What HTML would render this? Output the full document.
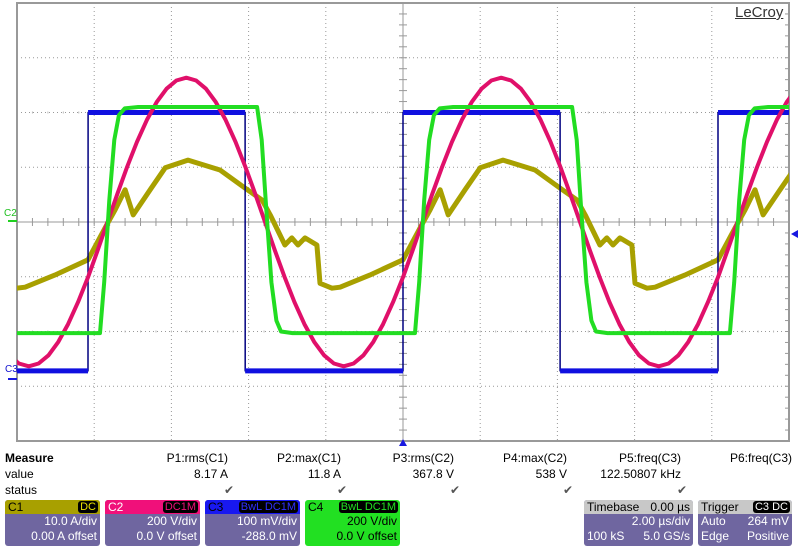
<!DOCTYPE html>
<html><head><meta charset="utf-8"><style>
body{margin:0;background:#fff;font-family:"Liberation Sans",sans-serif;}
#wrap{position:relative;width:800px;height:547px;overflow:hidden;background:#fff}
.t{position:absolute;font-size:12px;color:#000;white-space:nowrap}
.r{text-align:right}
.box{position:absolute;background:#6f66a0;border-radius:3px;color:#fff;font-size:12px;overflow:hidden}
.hd{height:14px;line-height:14px;padding-left:3px;position:relative}
.tag{position:absolute;top:1px;background:#000;border-radius:3px;font-size:11px;line-height:12px;padding:0 2px}
.ln{text-align:right;padding-right:3px;height:15px;line-height:15px}
</style></head><body>
<div id="wrap">
<svg id="plot" width="800" height="450" style="position:absolute;left:0;top:0"></svg>
<div class="t" style="left:735px;top:4px;font-size:15px;color:#333;text-decoration:underline">LeCroy</div>
<div class="t" style="left:4px;top:208px;font-size:10px;color:#20c020">C2</div>
<div class="t" style="left:5px;top:364px;font-size:10px;color:#1010d0">C3</div>

<div class="t" style="left:5px;top:451px;font-weight:bold">Measure</div>
<div class="t" style="left:5px;top:467px">value</div>
<div class="t" style="left:5px;top:483px">status</div>
<div id="meas"></div>

<div class="box" style="left:5px;top:500px;width:95px;height:46px"><div class="hd" style="background:#a8a000;color:#000">C1<span class="tag" style="right:2px;color:#e8e000">DC</span></div><div class="ln">10.0 A/div</div><div class="ln">0.00 A offset</div></div>
<div class="box" style="left:105px;top:500px;width:95px;height:46px"><div class="hd" style="background:#f0107a;color:#fff">C2<span class="tag" style="right:2px;color:#f0107a">DC1M</span></div><div class="ln">200 V/div</div><div class="ln">0.0 V offset</div></div>
<div class="box" style="left:205px;top:500px;width:95px;height:46px"><div class="hd" style="background:#1818f0;color:#000">C3<span class="tag" style="right:2px;color:#3030ff">BwL DC1M</span></div><div class="ln">100 mV/div</div><div class="ln">-288.0 mV</div></div>
<div class="box" style="left:305px;top:500px;width:95px;height:46px;background:#22e022;color:#000"><div class="hd" style="color:#000">C4<span class="tag" style="right:2px;color:#22e022">BwL DC1M</span></div><div class="ln">200 V/div</div><div class="ln">0.0 V offset</div></div>
<div class="box" style="left:584px;top:500px;width:109px;height:46px"><div class="hd" style="background:#c8c8c8;color:#000">Timebase<span style="position:absolute;right:3px">0.00 µs</span></div><div class="ln">2.00 µs/div</div><div class="ln" style="position:relative"><span style="position:absolute;left:3px">100 kS</span>5.0 GS/s</div></div>
<div class="box" style="left:698px;top:500px;width:94px;height:46px"><div class="hd" style="background:#c8c8c8;color:#000">Trigger<span class="tag" style="right:2px;color:#fff">C3 DC</span></div><div class="ln" style="position:relative"><span style="position:absolute;left:3px">Auto</span>264 mV</div><div class="ln" style="position:relative"><span style="position:absolute;left:3px">Edge</span>Positive</div></div>
</div>
<script>
// ---- chart data ----
const measNames = ["P1:rms(C1)","P2:max(C1)","P3:rms(C2)","P4:max(C2)","P5:freq(C3)","P6:freq(C3)"];
const measValues = ["8.17 A","11.8 A","367.8 V","538 V","122.50807 kHz",""];
const measStatus = [true,true,true,true,true,false];
const periodUs = 8.16;
const riseTimesUs = [-16.32,-8.16,0,8.16];
// C1 current (A), times relative to switching rise (µs)
const c1Times = [0,0.44,0.70,0.96,1.17,1.61,2.0,2.59,3.42,4.07,4.51,4.72,5.10,5.28,5.44,5.62,5.93,6.01,6.32,6.53,7.3,8.16];
const c1Values = [-6.9,-1.1,2.2,5.9,1.3,5.9,9.9,11.3,9.5,6.2,4.0,1.3,-4.2,-2.9,-4.2,-2.9,-4.2,-11.2,-12.1,-11.9,-9.7,-6.9];
// C2 voltage (V)
const c2Times = [0,0.25,0.505,0.76,1.015,1.27,1.525,1.78,2.035,2.29,2.545,2.8,3.055,3.31,3.565,3.82,4.075,4.33,4.585,4.84,5.095,5.35,5.605,5.86,6.115,6.37,6.625,6.88,7.135,7.39,7.645,7.9,8.16];
const c2Values = [-202,-103,0,103,202,293,373,438,487,517,527,517,487,438,373,293,202,103,0,-103,-202,-293,-373,-438,-487,-517,-527,-517,-487,-438,-373,-293,-202];
// C4 voltage (V)
const c4Times = [0,0.31,0.42,0.55,0.68,0.8,0.95,1.3,4.38,4.5,4.62,4.75,4.88,5.0,5.3,8.16];
const c4Values = [-406,-406,-220,80,300,390,415,420,420,300,40,-220,-360,-400,-406,-406];
// C3 gate signal (V)
const c3Times = [0,0.001,4.07,4.071,8.16];
const c3Values = [0.016,0.488,0.488,0.016,0.016];
const scales = {c1:10,c2:200,c3:0.1,c4:200};
const c3Offset = -0.288;

// ---- axes ----
const L=17,T=3,W=772,H=438,DX=W/10,DY=H/8;
const xOf = t => L + (t/2 + 5)*DX;
const yOf = d => T + (4 - d)*DY;
const svg = document.getElementById('plot');
const NS='http://www.w3.org/2000/svg';
function mk(tag, attrs){const e=document.createElementNS(NS,tag);for(const k in attrs)e.setAttribute(k,attrs[k]);return e;}
const grid = mk('g',{});


svg.appendChild(grid);
for(let i=1;i<10;i++){const x=L+i*DX;grid.appendChild(mk('line',{x1:x,y1:T,x2:x,y2:T+H,stroke:'#999','stroke-dasharray':'1,3'}));}
for(let j=1;j<8;j++){const y=T+j*DY;grid.appendChild(mk('line',{x1:L,y1:y,x2:L+W,y2:y,stroke:'#999','stroke-dasharray':'1,3'}));}
const cx=L+5*DX, cy=T+4*DY;
grid.appendChild(mk('line',{x1:cx,y1:T,x2:cx,y2:T+H,stroke:'#999'}));
grid.appendChild(mk('line',{x1:L,y1:cy,x2:L+W,y2:cy,stroke:'#999'}));
for(let i=0;i<50;i++){const x=L+i*DX/5;grid.appendChild(mk('line',{x1:x,y1:cy-4,x2:x,y2:cy+4,stroke:'#999'}));grid.appendChild(mk('line',{x1:x,y1:cy-DY*2-1,x2:x,y2:cy-DY*2+1,stroke:'#bbb'}));grid.appendChild(mk('line',{x1:x,y1:cy+DY*2-1,x2:x,y2:cy+DY*2+1,stroke:'#bbb'}));}
for(let j=0;j<40;j++){const y=T+j*DY/5;grid.appendChild(mk('line',{x1:cx-4,y1:y,x2:cx+4,y2:y,stroke:'#999'}));grid.appendChild(mk('line',{x1:L+W-4,y1:y,x2:L+W,y2:y,stroke:'#999'}));}
grid.appendChild(mk('rect',{x:L,y:T,width:W,height:H,fill:'none',stroke:'#999','stroke-width':2}));

const cp = mk('clipPath',{id:'cp'});cp.appendChild(mk('rect',{x:L,y:T,width:W,height:H}));svg.appendChild(cp);
function trace(times, vals, toDiv, color, w, name){
  let pts=[];
  riseTimesUs.forEach(r=>{times.forEach((t,i)=>{pts.push(xOf(r+t).toFixed(1)+','+yOf(toDiv(vals[i])).toFixed(1));});});
  const p=mk('polyline',{points:pts.join(' '),fill:'none',stroke:color,'stroke-width':w,'clip-path':'url(#cp)','stroke-linejoin':'round'});
  
  
  svg.appendChild(p);
  return pts;
}
trace(c1Times,c1Values,v=>v/scales.c1,'#a8a000',5,'c1-current-trace');
// C3: thin navy edges + thick blue levels
trace(c3Times,c3Values,v=>(v+c3Offset)/scales.c3,'#000080',1.5,'c3-gate-edges');
const c3g=mk('g',{'clip-path':'url(#cp)'});


svg.appendChild(c3g);
riseTimesUs.forEach(r=>{for(let i=0;i<c3Times.length-1;i++){if(c3Values[i]===c3Values[i+1]){const y=yOf((c3Values[i]+c3Offset)/scales.c3);c3g.appendChild(mk('line',{x1:xOf(r+c3Times[i]),y1:y,x2:xOf(r+c3Times[i+1]),y2:y,stroke:'#1010e0','stroke-width':5}));}}});
trace(c2Times,c2Values,v=>v/scales.c2,'#e0106a',4,'c2-voltage-trace');
trace(c4Times,c4Values,v=>v/scales.c4,'#22dd22',4,'c4-voltage-trace');
const trig=mk('polygon',{points:`${cx-4},${T+H+5} ${cx+4},${T+H+5} ${cx},${T+H-2}`,fill:'#1818e0'});


svg.appendChild(trig);
const lvl=mk('polygon',{points:`791,234 798,230 798,238`,fill:'#1818e0'});


svg.appendChild(lvl);
svg.appendChild(mk('line',{x1:8,y1:221,x2:17,y2:221,stroke:'#20d020','stroke-width':2}));
svg.appendChild(mk('line',{x1:8,y1:379,x2:17,y2:379,stroke:'#1818e0','stroke-width':2}));

// measurement table
const ends=[228,341,454,567,681,792];
const meas=document.getElementById('meas');
measNames.forEach((n,i)=>{
  const rows=[[n,451],[measValues[i],467],[measStatus[i]?'✔':'',483]];
  rows.forEach((r,k)=>{
    const d=document.createElement('div');
    d.className='t r';
    d.style.right=(800-ends[i]-(k==2?6:0))+'px';d.style.top=r[1]+'px';
    if(k==2)d.style.color='#555';
    d.textContent=r[0];
    
    
    meas.appendChild(d);
  });
});
</script>
</body></html>
